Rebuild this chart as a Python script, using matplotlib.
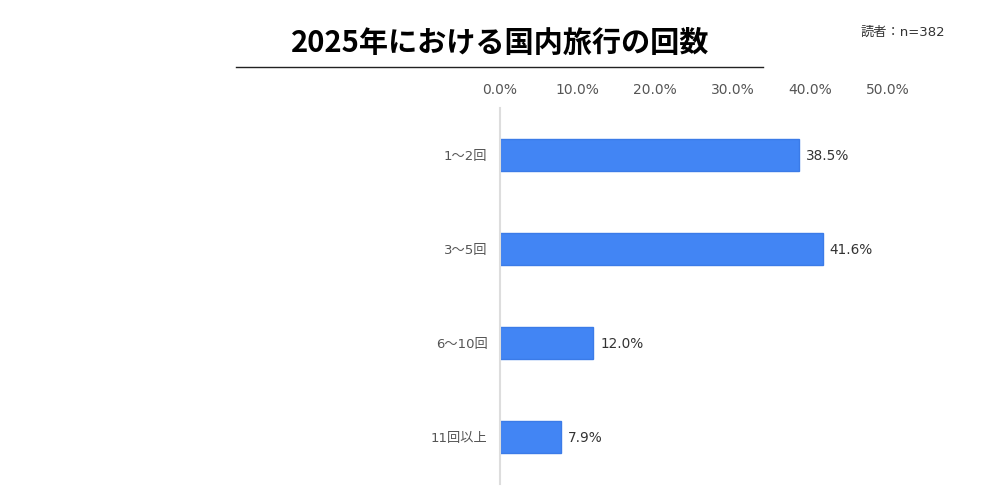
import matplotlib
matplotlib.use('Agg')
import matplotlib.pyplot as plt
from matplotlib.lines import Line2D

plt.rcParams['font.family'] = ['DejaVu Sans', 'Noto Sans CJK JP']

# データ
categories = ['1〜2回', '3〜5回', '6〜10回', '11回以上']
values = [38.5, 41.6, 12.0, 7.9]
xticks = [0, 10, 20, 30, 40, 50]
title = '2025年における国内旅行の回数'
note = '読者：n=382'

fig = plt.figure(figsize=(10, 5), dpi=100)
ax = fig.add_axes([0.5, 0.032, 0.388, 0.752])

ypos = list(range(len(categories)))
ax.barh(ypos, values, height=0.34, color='#4285F4', edgecolor='#3B7BE8', linewidth=1)
for y, v in zip(ypos, values):
    ax.text(v + 0.9, y, f'{v:.1f}%', va='center_baseline', ha='left', fontsize=9.8, color='#333333')

ax.set_xlim(0, 50)
ax.set_ylim(len(categories) - 0.5, -0.5)
ax.set_xticks(xticks)
ax.set_xticklabels([f'{t:.1f}%' for t in xticks], fontsize=10, color='#555555')
ax.xaxis.tick_top()
ax.tick_params(axis='x', length=0, pad=8)
ax.set_yticks(ypos)
ax.set_yticklabels(categories, fontsize=9.5, color='#555555', va='center_baseline')
ax.tick_params(axis='y', length=0, pad=9)

for s in ['top', 'right', 'bottom']:
    ax.spines[s].set_visible(False)
ax.spines['left'].set_color('#dddddd')
ax.spines['left'].set_linewidth(1.5)

fig.text(0.5, 0.915, title, ha='center', va='center', fontsize=21, fontweight='bold',
         color='#000000', family=['Noto Sans CJK JP', 'DejaVu Sans'])
fig.add_artist(Line2D([0.236, 0.763], [0.867, 0.867], color='#222222', linewidth=1, transform=fig.transFigure))
fig.text(0.903, 0.936, note, ha='center', va='center', fontsize=9.5, color='#333333')

fig.savefig('out.png', dpi=100)
